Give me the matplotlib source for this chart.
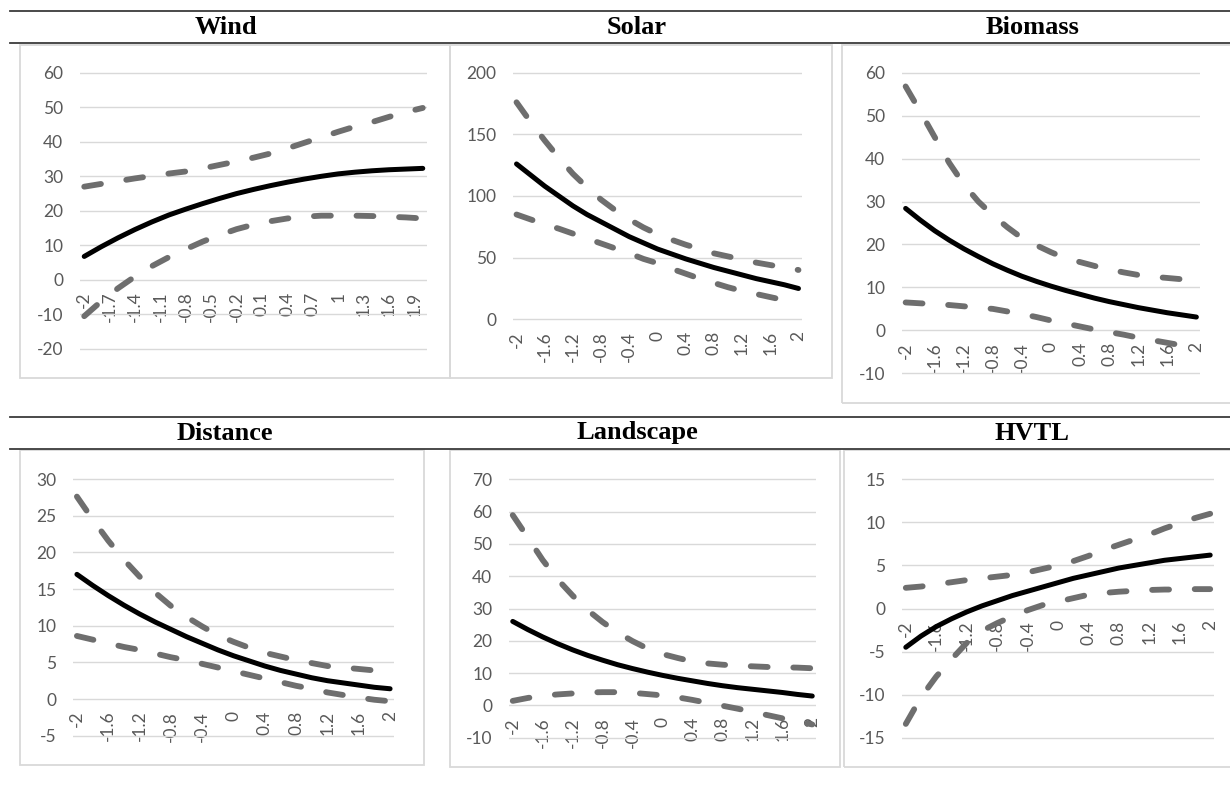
"""Six-panel predicted effect curves (Wind, Solar, Biomass, Distance, Landscape, HVTL)."""

import matplotlib

matplotlib.use("Agg")
import matplotlib.pyplot as plt
from matplotlib.lines import Line2D
from matplotlib.patches import Rectangle

W, H = 1230, 801

# category positions used for the curves
X = [-2.0, -1.8, -1.6, -1.4, -1.2, -1.0, -0.8, -0.6, -0.4, -0.2, 0.0,
     0.2, 0.4, 0.6, 0.8, 1.0, 1.2, 1.4, 1.6, 1.8, 2.0]

wind_mid = [6.8, 9.6, 12.2, 14.6, 16.8, 18.8, 20.5, 22.1, 23.6, 25.0, 26.2,
            27.3, 28.3, 29.2, 30.0, 30.7, 31.2, 31.6, 31.9, 32.1, 32.3]
wind_hi = [27.0, 27.8, 28.6, 29.4, 30.1, 30.8, 31.4, 32.3, 33.3, 34.3, 35.4,
           36.6, 38.1, 39.7, 41.3, 42.9, 44.4, 45.7, 47.2, 48.6, 49.8]
wind_lo = [-10.5, -6.2, -2.4, 1.0, 4.0, 6.6, 8.9, 11.1, 13.0, 14.7, 16.0,
           17.0, 17.8, 18.3, 18.6, 18.6, 18.6, 18.5, 18.3, 18.1, 17.8]

solar_mid = [126, 117, 108, 100, 92, 85, 79, 73, 67, 62, 57,
             53, 49, 45.5, 42, 39, 36, 33, 30.5, 28, 25]
solar_hi = [176, 160, 145, 131, 118, 107, 97, 88.5, 81, 74.5, 69,
            64.5, 60.5, 57, 53.5, 51, 48.5, 46, 44, 42, 40]
solar_lo = [85, 81, 77, 73.5, 69.5, 65.5, 61.5, 57.5, 53.5, 49, 45.5,
            41.0, 37.0, 33, 29.5, 26, 23, 20.5, 18, 15.5, 13]

biomass_mid = [28.4, 25.7, 23.2, 21.0, 19.0, 17.2, 15.5, 14.0, 12.6, 11.4, 10.3,
               9.3, 8.4, 7.5, 6.7, 6.0, 5.3, 4.7, 4.1, 3.6, 3.1]
biomass_hi = [56.8, 51.0, 45.0, 39.0, 34.0, 30.0, 26.8, 24.0, 21.5, 19.8, 18.2,
              16.8, 15.9, 15.0, 14.2, 13.5, 12.9, 12.5, 12.2, 11.9, 11.5]
biomass_lo = [6.5, 6.3, 6.1, 5.9, 5.6, 5.3, 5.0, 4.4, 3.8, 3.1, 2.3,
              1.6, 0.9, 0.2, -0.4, -1.0, -1.7, -2.3, -2.9, -3.5, -4.0]

distance_mid = [17.0, 15.5, 14.1, 12.8, 11.6, 10.5, 9.5, 8.5, 7.6, 6.7, 5.9,
                5.2, 4.5, 3.9, 3.4, 2.9, 2.5, 2.2, 1.9, 1.6, 1.4]
distance_hi = [27.6, 24.5, 21.6, 19.0, 16.7, 14.5, 12.7, 11.2, 9.9, 8.7, 7.8,
               7.0, 6.3, 5.8, 5.3, 4.9, 4.5, 4.3, 4.1, 3.9, 3.7]
distance_lo = [8.6, 8.1, 7.6, 7.1, 6.7, 6.2, 5.7, 5.3, 4.8, 4.3, 3.8,
               3.3, 2.8, 2.3, 1.8, 1.4, 0.9, 0.55, 0.2, -0.1, -0.3]

landscape_mid = [26.0, 23.5, 21.2, 19.1, 17.2, 15.5, 14.0, 12.6, 11.4, 10.3, 9.3,
                 8.4, 7.6, 6.8, 6.1, 5.5, 5.0, 4.5, 4.0, 3.4, 2.9]
landscape_hi = [58.9, 52.0, 45.0, 39.0, 34.0, 29.5, 25.8, 22.6, 19.9, 17.6, 15.9,
                14.7, 13.6, 13.0, 12.6, 12.3, 12.1, 11.9, 11.8, 11.7, 11.5]
landscape_lo = [1.4, 2.3, 3.0, 3.4, 3.7, 4.0, 4.1, 4.1, 3.9, 3.5, 3.1,
                2.5, 1.7, 0.8, -0.1, -1.0, -2.0, -3.0, -4.0, -5.0, -5.9]

hvtl_mid = [-4.5, -3.2, -2.1, -1.2, -0.4, 0.3, 0.9, 1.5, 2.0, 2.5, 3.0,
            3.5, 3.9, 4.3, 4.7, 5.0, 5.3, 5.6, 5.8, 6.0, 6.2]
hvtl_hi = [2.4, 2.55, 2.8, 3.05, 3.3, 3.5, 3.7, 3.9, 4.2, 4.6, 5.0,
           5.5, 6.1, 6.8, 7.4, 8.0, 8.6, 9.3, 9.9, 10.5, 11.0]
hvtl_lo = [-13.4, -10.3, -7.9, -5.9, -4.0, -2.6, -1.7, -0.9, -0.2, 0.4, 0.8,
           1.2, 1.6, 1.8, 1.95, 2.05, 2.15, 2.2, 2.2, 2.25, 2.25]

# category labels shown on the horizontal axis
wind_xticks = [-2, -1.7, -1.4, -1.1, -0.8, -0.5, -0.2, 0.1, 0.4, 0.7, 1, 1.3, 1.6, 1.9]
std_xticks = [-2, -1.6, -1.2, -0.8, -0.4, 0, 0.4, 0.8, 1.2, 1.6, 2]

wind_yticks = [-20, -10, 0, 10, 20, 30, 40, 50, 60]
solar_yticks = [0, 50, 100, 150, 200]
biomass_yticks = [-10, 0, 10, 20, 30, 40, 50, 60]
distance_yticks = [-5, 0, 5, 10, 15, 20, 25, 30]
landscape_yticks = [-10, 0, 10, 20, 30, 40, 50, 60, 70]
hvtl_yticks = [-15, -10, -5, 0, 5, 10, 15]

GRID = "#d9d9d9"
TICK = "#595959"
DASH = "#6e6e6e"

# name, series, xticks, yticks, plot rect (px: left, top, right, bottom), title centre, chart box
PANELS = [
    ("Wind", (wind_mid, wind_hi, wind_lo), wind_xticks, wind_yticks,
     (80, 72.7, 427, 349), (226, 28), (20, 45, 450, 378)),
    ("Solar", (solar_mid, solar_hi, solar_lo), std_xticks, solar_yticks,
     (513, 72.7, 802, 319.3), (637, 28), (450, 45, 832, 378)),
    ("Biomass", (biomass_mid, biomass_hi, biomass_lo), std_xticks, biomass_yticks,
     (902, 72.7, 1200, 373.3), (1033, 28), (842, 45, 1234, 403)),
    ("Distance", (distance_mid, distance_hi, distance_lo), std_xticks, distance_yticks,
     (73, 479, 394, 735.7), (225, 433), (20, 450, 424, 765)),
    ("Landscape", (landscape_mid, landscape_hi, landscape_lo), std_xticks, landscape_yticks,
     (509, 479.3, 816, 737.7), (637, 433), (450, 450, 840, 767)),
    ("HVTL", (hvtl_mid, hvtl_hi, hvtl_lo), std_xticks, hvtl_yticks,
     (902, 479.3, 1214, 737.7), (1032, 433), (844, 450, 1234, 767)),
]


def fmt(v):
    return f"{round(v, 2):g}"


def add_panel(fig, series, xticks, yticks, rect):
    x0, y0, x1, y1 = rect
    lo, hi = min(yticks), max(yticks)
    pad_px = 3
    per_unit = (y1 - y0) / (hi - lo)
    pad = pad_px / per_unit
    top, bot = y0 - pad_px, y1 + pad_px
    ax = fig.add_axes([x0 / W, 1 - bot / H, (x1 - x0) / W, (bot - top) / H])
    ax.set_xlim(-2.05, 2.05)
    ax.set_ylim(lo - pad, hi + pad)

    # category axis sits on the zero line, as in the spreadsheet chart
    for side in ("top", "right", "left"):
        ax.spines[side].set_visible(False)
    ax.spines["bottom"].set_position(("data", 0))
    ax.spines["bottom"].set_visible(False)

    mid, upper, lower = series
    dash = (0, (2.9, 4.4))
    ax.plot(X, upper, color=DASH, lw=4.2, ls=dash, dash_capstyle="round", zorder=3)
    ax.plot(X, lower, color=DASH, lw=4.2, ls=dash, dash_capstyle="round", zorder=3)
    ax.plot(X, mid, color="black", lw=3.6, solid_capstyle="round",
            solid_joinstyle="round", zorder=4)

    ax.set_yticks(yticks)
    ax.set_yticklabels([fmt(v) for v in yticks])
    ax.set_xticks(xticks)
    ax.set_xticklabels([fmt(v) for v in xticks])
    ax.grid(axis="y", color=GRID, lw=1.0)
    ax.grid(axis="x", visible=False)
    ax.set_axisbelow(True)
    ax.tick_params(axis="y", length=0, pad=12, labelsize=12.5, labelcolor=TICK)
    ax.tick_params(axis="x", length=0, pad=8.5, labelsize=12.5, labelcolor=TICK,
                   labelrotation=90)
    ax.patch.set_alpha(0)
    return ax


def run():
    plt.rcParams["font.family"] = ["Lato", "DejaVu Sans"]
    fig = plt.figure(figsize=(W / 100, H / 100), dpi=100)

    # horizontal rules above and below each row of titles
    for y in (11, 43, 416.5, 449):
        fig.add_artist(Line2D([10 / W, 1], [1 - y / H] * 2, color="#3c3c3c", lw=1.3))

    for name, series, xticks, yticks, rect, (cx, cy), box in PANELS:
        bx0, by0, bx1, by1 = box
        fig.add_artist(Rectangle((bx0 / W, 1 - by1 / H), (bx1 - bx0) / W, (by1 - by0) / H,
                                 fill=False, ec=GRID, lw=1.3))
        fig.text(cx / W, 1 - cy / H, name, ha="center", va="center",
                 family="Liberation Serif", fontweight="bold", fontsize=19)
        add_panel(fig, series, xticks, yticks, rect)

    fig.savefig("out.png", dpi=100)
    plt.close(fig)


if __name__ == "__main__":
    run()
